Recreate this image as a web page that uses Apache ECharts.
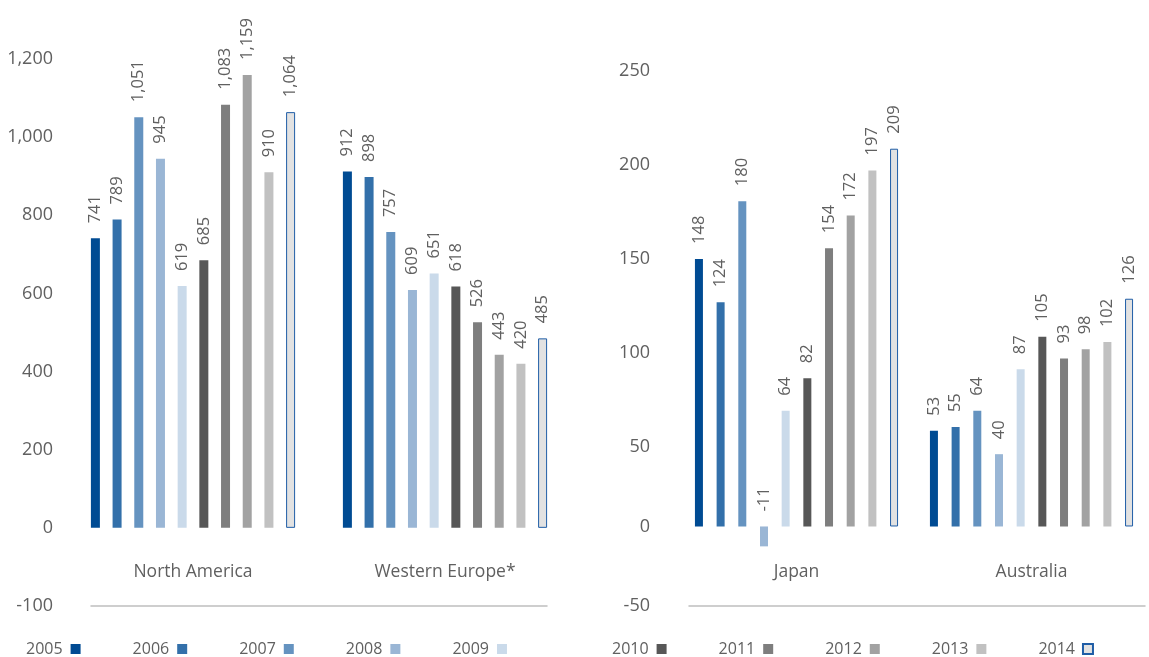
<!DOCTYPE html>
<html>
<head>
<meta charset="utf-8">
<script src="https://cdn.jsdelivr.net/npm/echarts@6/dist/echarts.min.js"></script>
<style>
html,body{margin:0;padding:0;background:#fff;}
#chart{width:1149px;height:657px;}
</style>
</head>
<body>
<div id="chart"></div>
<script>
// ---- data ----
const years = ['2005','2006','2007','2008','2009','2010','2011','2012','2013','2014'];
const leftRegions = ['North America', 'Western Europe*'];
const rightRegions = ['Japan', 'Australia'];
const northAmerica = [741, 789, 1051, 945, 619, 685, 1083, 1159, 910, 1064];
const westernEurope = [912, 898, 757, 609, 651, 618, 526, 443, 420, 485];
const japan = [148, 124, 180, -11, 64, 82, 154, 172, 197, 209];
const australia = [53, 55, 64, 40, 87, 105, 93, 98, 102, 126];
const leftTickValues = [-200, 0, 200, 400, 600, 800, 1000, 1200];
const leftTickLabels = ['-100', '0', '200', '400', '600', '800', '1,000', '1,200'];
const rightTickValues = [-44, 0, 44, 96, 148, 200, 252];
const rightTickLabels = ['-50', '0', '50', '100', '150', '200', '250'];

// ---- style ----
const colors = ['#004B93','#3370AA','#6593C0','#9AB6D5','#CADAEA','#575757','#7E7E7E','#A2A2A2','#C1C1C1','#E2E2E2'];
const FONT = '"Open Sans", "Liberation Sans", sans-serif';
const W = 400;
const TXT = '#606060';

const chart = echarts.init(document.getElementById('chart'), null, {renderer: 'canvas'});

function fmt(v) { return Number(v).toLocaleString('en-US'); }

const series = [];
years.forEach((y, i) => {
  const isLast = i === years.length - 1;
  const itemStyle = isLast
    ? {color: colors[i], borderColor: '#1F5DA6', borderWidth: 1}
    : {color: colors[i]};
  const label = {
    show: true, position: 'top', rotate: 90, align: 'left', verticalAlign: 'middle',
    distance: 15, color: TXT, fontFamily: FONT, fontWeight: W, fontSize: 16.5,
    formatter: p => fmt(p.value)
  };
  series.push({
    name: y, type: 'bar', xAxisIndex: 0, yAxisIndex: 0,
    barWidth: 9, barGap: '141%',
    itemStyle, label,
    data: [northAmerica[i], westernEurope[i]]
  });
  series.push({
    name: y, type: 'bar', xAxisIndex: 1, yAxisIndex: 1,
    barWidth: 8, barGap: '171%',
    itemStyle, label,
    data: [japan[i], australia[i]]
  });
});

const legendCommon = {
  top: 641, orient: 'horizontal', align: 'right', icon: 'rect', padding: 0,
  itemWidth: 10, itemHeight: 10, itemGap: 52,
  textStyle: {color: TXT, fontFamily: FONT, fontWeight: W, fontSize: 16, padding: [0, 3, 0, 0]},
  selectedMode: false
};

const option = {
  animation: false,
  backgroundColor: '#ffffff',
  legend: [
    Object.assign({}, legendCommon, {left: 26, data: years.slice(0, 5)}),
    Object.assign({}, legendCommon, {left: 612, data: years.slice(5)})
  ],
  grid: [
    {left: 67, width: 504, top: 59, bottom: 51},
    {left: 679, width: 484, top: 71, bottom: 51},
    {left: 91, width: 456, top: 59, bottom: 51},
    {left: 689, width: 456, top: 71, bottom: 51}
  ],
  xAxis: [
    {type: 'category', gridIndex: 0, data: leftRegions,
     axisLine: {show: false}, axisTick: {show: false},
     axisLabel: {inside: true, margin: 25, color: TXT, fontFamily: FONT, fontWeight: W, fontSize: 17.5}},
    {type: 'category', gridIndex: 1, data: rightRegions,
     axisLine: {show: false}, axisTick: {show: false},
     axisLabel: {inside: true, margin: 25, color: TXT, fontFamily: FONT, fontWeight: W, fontSize: 17.5}},
    {type: 'value', gridIndex: 2, min: 0, max: 1,
     axisLine: {show: true, lineStyle: {color: '#BFBFBF', width: 1.5}},
     axisTick: {show: false}, axisLabel: {show: false}, splitLine: {show: false}},
    {type: 'value', gridIndex: 3, min: 0, max: 1,
     axisLine: {show: true, lineStyle: {color: '#BFBFBF', width: 1.5}},
     axisTick: {show: false}, axisLabel: {show: false}, splitLine: {show: false}}
  ],
  yAxis: [
    {type: 'value', gridIndex: 0, min: -200, max: 1200, interval: 200,
     axisLine: {show: false}, axisTick: {show: false}, splitLine: {show: false},
     axisLabel: {margin: 14, color: TXT, fontFamily: FONT, fontWeight: W, fontSize: 18,
       formatter: v => leftTickLabels[leftTickValues.indexOf(v)] ?? ''}},
    {type: 'value', gridIndex: 1, min: -44, max: 252,
     axisLine: {show: false}, axisTick: {show: false}, splitLine: {show: false},
     axisLabel: {margin: 29, color: TXT, fontFamily: FONT, fontWeight: W, fontSize: 18,
       customValues: rightTickValues,
       formatter: v => rightTickLabels[rightTickValues.indexOf(v)] ?? ''}},
    {type: 'value', gridIndex: 2, show: false},
    {type: 'value', gridIndex: 3, show: false}
  ],
  series
};
chart.setOption(option);
</script>
</body>
</html>
